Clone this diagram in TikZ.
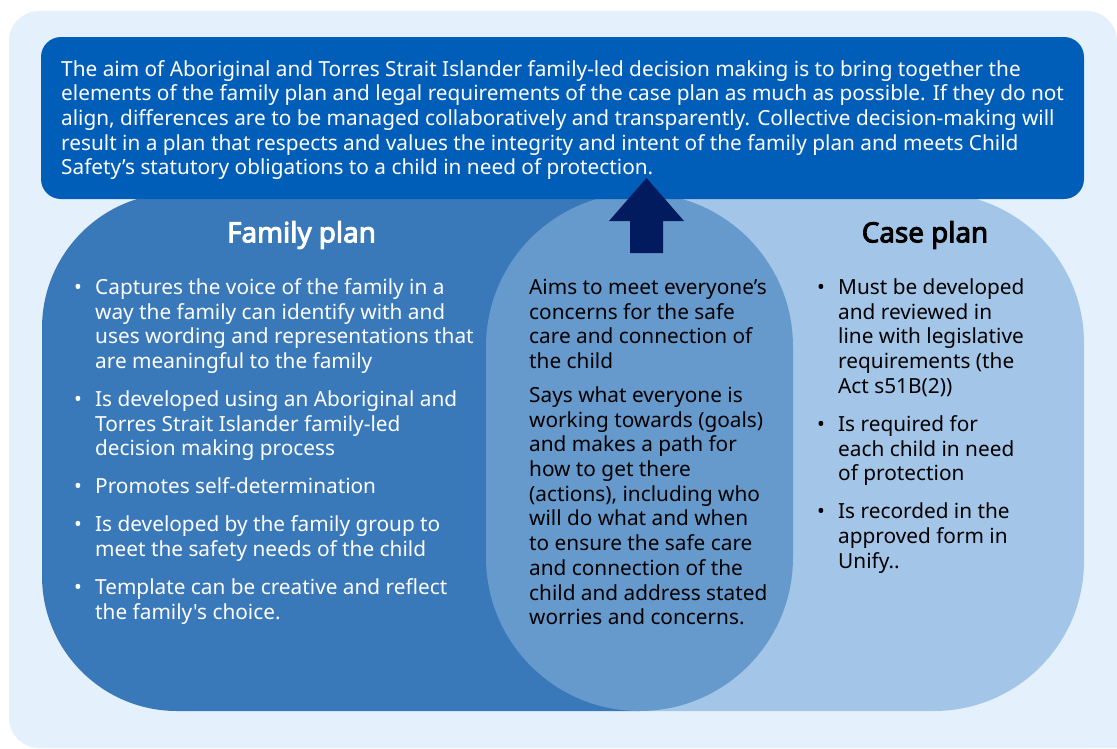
\documentclass[tikz,border=0pt]{standalone}
\usepackage{fontspec}
\setmainfont{Noto Sans}[Ligatures=TeXOff,AutoFakeBold=3.4]
\usepackage{tikz}

\definecolor{bgblue}{RGB}{228,241,253}
\definecolor{aimblue}{RGB}{0,94,184}
\definecolor{famblue}{RGB}{57,120,185}
\definecolor{midblue}{RGB}{102,153,204}
\definecolor{caseblue}{RGB}{163,197,231}
\definecolor{navy}{RGB}{1,27,94}

\newcommand{\txtsize}{\fontsize{20.8}{24.7}\selectfont}
\newcommand{\bitem}{\par\noindent\hangindent=21pt\hangafter=1\makebox[21pt][l]{•}}

\begin{document}
\begin{tikzpicture}[x=1pt,y=-1pt,inner sep=0pt]
  \tikzstyle{plantitle}=[font=\fontsize{27.8}{30}\selectfont\bfseries,anchor=base]
  \tikzstyle{plantext}=[anchor=base west,font=\txtsize]

  \useasboundingbox (0,0) rectangle (1117,748);
  \fill[bgblue,rounded corners=30] (9,11) rectangle (1117,748);
  \fill[bgblue] (1060,700) rectangle (1117,748);

  % the two plans, cut at the middle
  \begin{scope}
    \clip (0,0) rectangle (640,748);
    \fill[famblue,rounded corners=135] (42,193) rectangle (900,711);
  \end{scope}
  \begin{scope}
    \clip (640,0) rectangle (1117,748);
    \fill[caseblue,rounded corners=150] (380,193) rectangle (1084,711);
  \end{scope}
  \fill[midblue,rounded corners=153.5] (486,193) rectangle (793,711);

  \fill[aimblue,rounded corners=20] (41,37) rectangle (1084,199);
  \fill[navy] (630,253) -- (630,221) -- (609,221) -- (646.5,178)
              -- (684,221) -- (663,221) -- (663,253) -- cycle;

  \node[plantext,text=white] (aim) at (61,76) {\parbox[t]{1030pt}{\raggedright
    The aim of Aboriginal and Torres Strait Islander family-led decision making is to bring together the\newline
    elements of the family plan and legal requirements of the case plan as much as possible. If they do not\newline
    align, differences are to be managed collaboratively and transparently. Collective decision-making will\newline
    result in a plan that respects and values the integrity and intent of the family plan and meets Child\newline
    Safety’s statutory obligations to a child in need of protection.}};

  \node[plantitle,text=white] (famtitle) at (301.5,242.3) {Family plan};
  \node[plantitle,text=black] (casetitle) at (925,242.3) {Case plan};

  \node[plantext,text=white] (famtext) at (74,294.3) {\parbox[t]{430pt}{\raggedright\parskip=13.3pt
    \bitem Captures the voice of the family in a\newline way the family can identify with and\newline
      uses wording and representations that\newline are meaningful to the family
    \bitem Is developed using an Aboriginal and\newline Torres Strait Islander family-led\newline decision making process
    \bitem Promotes self-determination
    \bitem Is developed by the family group to\newline meet the safety needs of the child
    \bitem Template can be creative and reflect\newline the family's choice.\par}};

  \node[plantext,text=black] (shared) at (529,294.3) {\parbox[t]{270pt}{\raggedright\parskip=9.3pt
    Aims to meet everyone’s\newline concerns for the safe\newline care and connection of\newline the child\par
    Says what everyone is\newline working towards (goals)\newline and makes a path for\newline how to get there\newline
    (actions), including who\newline will do what and when\newline to ensure the safe care\newline
    and connection of the\newline child and address stated\newline worries and concerns.\par}};

  \node[plantext,text=black] (casetext) at (817,294.3) {\parbox[t]{250pt}{\raggedright\parskip=13.5pt
    \bitem Must be developed\newline and reviewed in\newline line with legislative\newline requirements (the\newline Act s51B(2))
    \bitem Is required for\newline each child in need\newline of protection
    \bitem Is recorded in the\newline approved form in\newline Unify..\par}};
\end{tikzpicture}
\end{document}
